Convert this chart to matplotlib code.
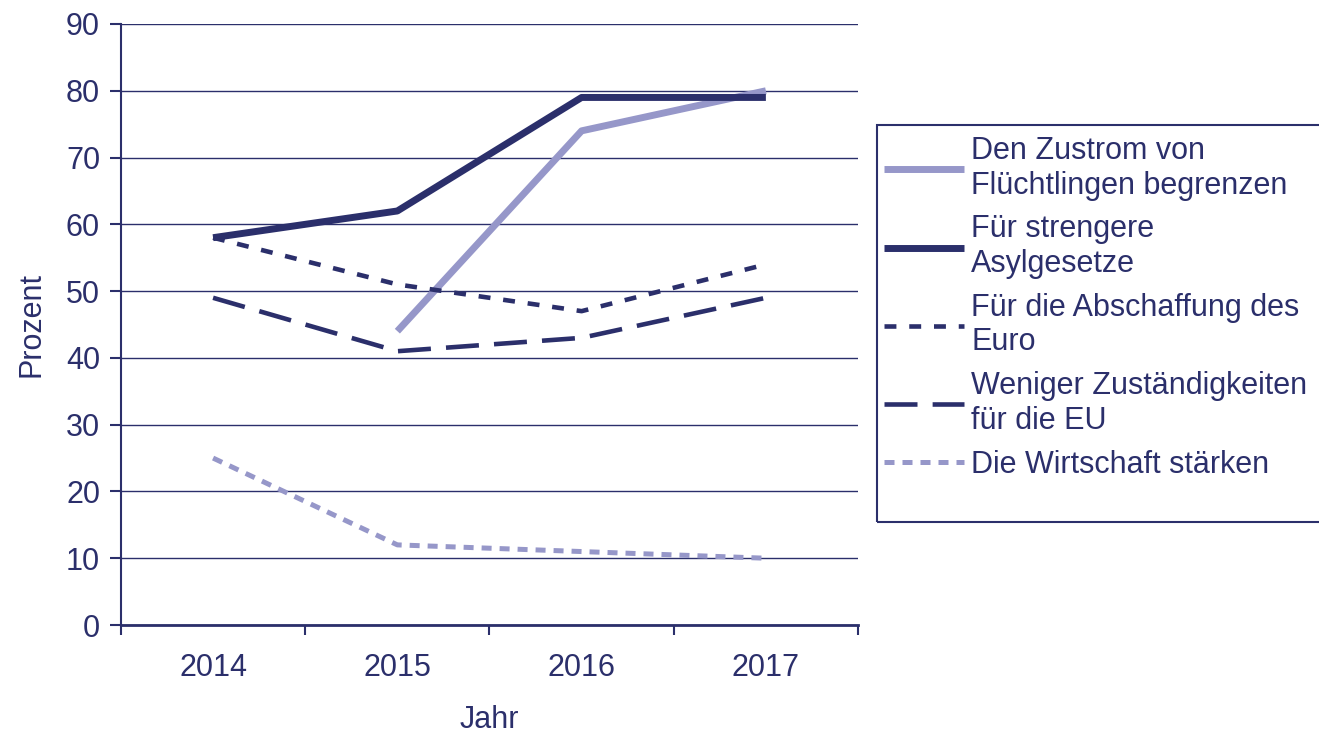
import matplotlib
matplotlib.use('Agg')
import matplotlib.pyplot as plt
from matplotlib.patches import Rectangle
import numpy as np

# chart data
years = ['2014', '2015', '2016', '2017']
zustrom = [np.nan, 44, 74, 80]
asyl = [58, 62, 79, 79]
euro = [58, 51, 47, 54]
eu = [49, 41, 43, 49]
wirtschaft = [25, 12, 11, 10]
labels = ['Den Zustrom von\nFlüchtlingen begrenzen',
          'Für strengere\nAsylgesetze',
          'Für die Abschaffung des\nEuro',
          'Weniger Zuständigkeiten\nfür die EU',
          'Die Wirtschaft stärken']

NAVY = '#2b2f6b'
LAV = '#9697c9'

plt.rcParams['font.family'] = ['Liberation Sans', 'DejaVu Sans']
plt.rcParams['font.size'] = 22
plt.rcParams['text.color'] = NAVY


def main():
    fig = plt.figure(figsize=(13.19, 7.36), dpi=100)
    ax = fig.add_axes([0.0917, 0.1508, 0.5588, 0.8166])

    x = np.arange(len(years))
    ax.plot(x, zustrom, color=LAV, lw=5, solid_capstyle='butt', label=labels[0])
    ax.plot(x, asyl, color=NAVY, lw=5, solid_capstyle='butt', label=labels[1])
    ax.plot(x, euro, color=NAVY, lw=3.3, dashes=(2.6, 2.8), label=labels[2])
    ax.plot(x, eu, color=NAVY, lw=3.3, dashes=(7.2, 3.3), label=labels[3])
    ax.plot(x, wirtschaft, color=LAV, lw=3.6, dashes=(2.0, 1.6), label=labels[4])

    ax.set_xlim(-0.5, 3.5)
    ax.set_ylim(0, 90)
    ax.set_yticks(np.arange(0, 91, 10))
    ax.yaxis.grid(True, color=NAVY, lw=1)
    ax.set_axisbelow(True)

    # boundary ticks between years, year labels centred on the categories
    ax.set_xticks(np.arange(-0.5, 3.6, 1))
    ax.set_xticklabels([])
    ax.set_xticks(x, minor=True)
    ax.set_xticklabels(years, minor=True)
    ax.tick_params(axis='x', which='major', length=7, width=1.5, color=NAVY)
    ax.tick_params(axis='x', which='minor', length=0, pad=20, labelcolor=NAVY)
    ax.tick_params(axis='y', length=8, width=1.5, color=NAVY, labelcolor=NAVY, pad=7)

    for s in ['top', 'right']:
        ax.spines[s].set_visible(False)
    ax.spines['left'].set_color(NAVY)
    ax.spines['left'].set_linewidth(1.5)
    ax.spines['bottom'].set_color(NAVY)
    ax.spines['bottom'].set_linewidth(2)

    ax.set_xlabel('Jahr', color=NAVY, labelpad=16)
    ax.set_ylabel('Prozent', color=NAVY, labelpad=14)

    # legend frame drawn by hand, runs off the right edge
    fig.patches.append(Rectangle((877 / 1319, 1 - 522 / 736), 0.4, 397 / 736,
                                 transform=fig.transFigure, fill=False,
                                 edgecolor=NAVY, lw=1.5))
    leg = fig.legend(loc='upper left', bbox_to_anchor=(878 / 1319, 1 - 130 / 736),
                     frameon=False, handlelength=2.6, handletextpad=0.25,
                     labelspacing=0.45, borderaxespad=0, borderpad=0.2)
    for t in leg.get_texts():
        t.set_color(NAVY)
        t.set_linespacing(1.2)

    fig.savefig('out.png', dpi=100)


if __name__ == '__main__':
    main()
